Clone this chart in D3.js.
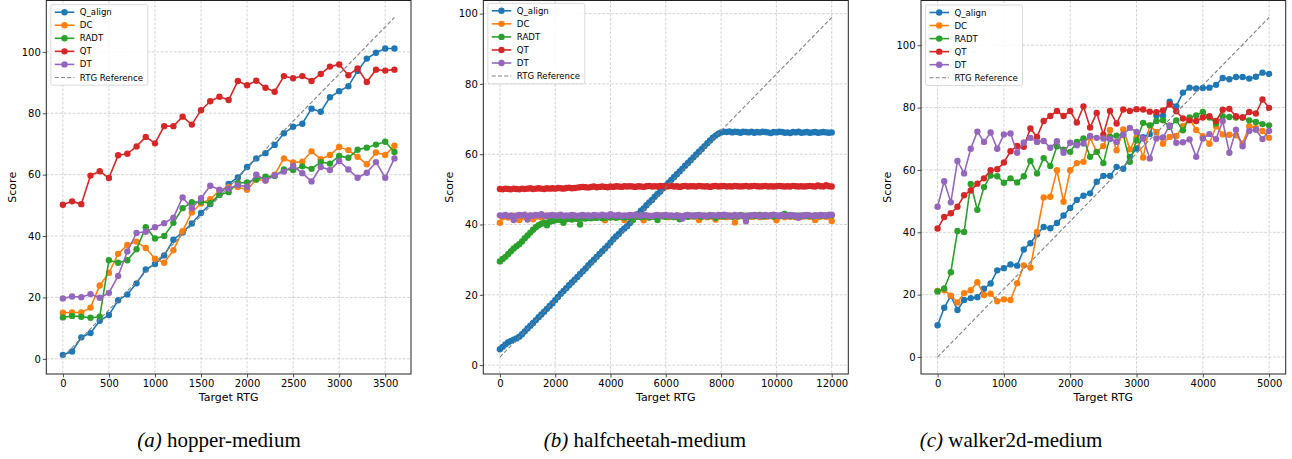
<!DOCTYPE html>
<html>
<head>
<meta charset="utf-8">
<script src="https://cdn.jsdelivr.net/npm/d3@7"></script>
<style>
  body { margin: 0; background: #fff; }
  svg text { font-family: "DejaVu Sans", sans-serif; fill: #000; }
</style>
</head>
<body>
<svg id="chart" width="1292" height="459"></svg>
<script>
// series names and colours (legend order)
var seriesNames = ["Q_align", "DC", "RADT", "QT", "DT"];
var seriesColors = ["#1f77b4", "#ff7f0e", "#2ca02c", "#d62728", "#9467bd"];

// (a) hopper-medium, target RTG 0..3600 step 100
var hopperRtg = d3.range(0, 3601, 100);
var hopperQAlign = [1.3, 2.4, 7.0, 8.4, 12.4, 14.3, 19.1, 21.0, 24.6, 29.1, 30.9, 33.7, 38.8, 41.2, 44.1, 47.5, 50.4, 53.5, 57.0, 59.1, 62.5, 65.3, 67.0, 69.7, 73.5, 75.6, 76.6, 81.5, 80.5, 85.2, 87.2, 88.8, 93.8, 97.8, 99.7, 101.1, 101.1];
var hopperDC = [15.0, 15.1, 15.1, 16.7, 23.9, 28.0, 34.2, 37.1, 38.2, 36.1, 32.6, 31.3, 35.4, 41.6, 47.7, 50.6, 52.0, 54.8, 55.9, 56.0, 55.1, 58.4, 58.1, 60.0, 65.3, 64.0, 64.2, 67.6, 65.0, 66.4, 69.0, 68.0, 65.8, 63.4, 67.2, 66.4, 69.4];
var hopperRADT = [13.5, 14.0, 13.7, 13.4, 13.7, 32.1, 31.3, 32.1, 35.7, 42.9, 39.2, 40.0, 44.3, 49.1, 51.0, 51.2, 50.7, 53.4, 54.3, 57.3, 57.5, 58.4, 59.3, 59.6, 61.7, 61.5, 62.7, 61.9, 64.1, 63.6, 66.1, 65.5, 68.1, 68.8, 69.8, 70.7, 67.4];
var hopperQT = [50.2, 51.3, 50.4, 59.7, 61.1, 58.9, 66.3, 66.8, 69.2, 72.3, 70.2, 75.8, 75.8, 78.9, 76.3, 81.0, 83.9, 85.4, 84.3, 90.5, 89.1, 90.6, 88.3, 87.0, 92.1, 91.4, 92.1, 90.5, 92.8, 95.2, 95.9, 92.4, 94.6, 90.2, 94.2, 93.9, 94.2];
var hopperDT = [19.7, 20.3, 20.1, 21.1, 19.9, 21.5, 27.0, 35.0, 41.0, 41.4, 42.9, 44.2, 46.0, 52.6, 49.1, 52.3, 56.4, 55.1, 55.4, 56.6, 56.1, 60.0, 58.1, 59.8, 61.0, 62.8, 60.5, 57.8, 62.5, 61.5, 64.4, 61.7, 59.0, 60.6, 64.1, 59.0, 65.3];
var hopperRefX = [0, 3600];
var hopperRefY = [0.6, 111.2];
var hopperXTicks = [0, 500, 1000, 1500, 2000, 2500, 3000, 3500];

// (b) halfcheetah-medium, target RTG 0..12000 step 100
var cheetahRtg = d3.range(0, 12001, 100);
var cheetahQAlign = [
  4.5, 5.2, 5.9, 6.5, 6.9, 7.2, 7.6, 8.1, 8.8, 9.6,
  10.4, 11.2, 12.0, 12.8, 13.6, 14.4, 15.2, 16.0, 16.8, 17.6,
  18.5, 19.4, 20.3, 21.1, 21.9, 22.7, 23.5, 24.3, 25.1, 25.9,
  26.7, 27.5, 28.4, 29.2, 30.0, 30.8, 31.6, 32.4, 33.2, 34.0,
  34.9, 35.8, 36.6, 37.3, 38.2, 38.9, 39.5, 40.4, 41.3, 42.2,
  43.0, 43.9, 44.6, 45.5, 46.3, 47.0, 47.9, 48.7, 49.4, 50.3,
  51.1, 51.9, 52.7, 53.5, 54.3, 55.1, 55.9, 56.7, 57.5, 58.3,
  59.1, 59.9, 60.7, 61.5, 62.3, 63.1, 63.9, 64.7, 65.3, 65.8,
  66.2, 66.4, 66.3, 66.5, 66.2, 66.4, 66.3, 66.1, 66.4, 66.3,
  66.2, 66.4, 66.1, 66.3, 66.2, 66.4, 66.3, 66.2, 66.0, 66.3,
  66.2, 66.4, 66.3, 66.1, 66.2, 66.0, 66.3, 66.2, 66.4, 66.1,
  66.2, 66.3, 66.1, 66.2, 66.3, 66.1, 66.2, 66.3, 66.2, 66.1,
  66.2];
var cheetahDC = [
  40.5, 42.1, 42.4, 42.0, 42.3, 42.5, 42.2, 41.3, 42.4, 42.1,
  42.3, 42.5, 41.5, 42.2, 42.4, 42.1, 42.3, 42.6, 41.2, 42.3,
  42.4, 42.2, 42.5, 42.1, 42.3, 42.4, 42.2, 42.5, 42.3, 42.1,
  42.4, 42.2, 42.6, 42.3, 42.1, 42.4, 42.2, 42.3, 41.2, 42.4,
  42.3, 42.1, 42.5, 42.2, 42.4, 41.3, 42.3, 42.5, 42.1, 42.4,
  42.2, 42.3, 41.2, 42.4, 42.1, 42.3, 42.5, 42.2, 42.4, 42.6,
  42.3, 42.1, 42.4, 42.2, 42.5, 42.3, 42.1, 42.4, 42.2, 42.3,
  42.4, 42.2, 41.3, 42.3, 42.5, 42.1, 42.4, 42.2, 41.4, 42.3,
  42.2, 42.4, 42.1, 42.3, 42.5, 40.6, 42.2, 42.4, 42.3, 42.1,
  42.4, 42.2, 42.3, 42.5, 42.1, 42.4, 42.2, 42.3, 42.4, 42.2,
  41.2, 42.3, 42.5, 42.1, 42.4, 42.2, 42.3, 42.1, 42.4, 42.2,
  42.3, 42.5, 42.2, 42.4, 41.3, 42.1, 42.3, 42.4, 42.2, 42.3,
  41.0];
var cheetahRADT = [
  29.5, 30.2, 30.8, 31.6, 32.4, 33.2, 33.8, 34.4, 35.2, 36.1,
  36.9, 37.7, 38.5, 39.2, 39.8, 40.2, 40.5, 39.8, 40.8, 41.0,
  41.2, 41.4, 41.3, 40.5, 41.5, 41.6, 41.4, 41.7, 41.6, 40.0,
  41.8, 41.7, 41.9, 41.8, 42.0, 41.9, 42.1, 41.8, 42.0, 42.1,
  42.0, 42.2, 41.9, 42.1, 42.2, 42.0, 42.3, 42.1, 41.2, 42.2,
  42.3, 42.1, 42.2, 42.4, 42.0, 42.3, 42.2, 41.3, 42.4, 42.3,
  42.2, 42.4, 42.3, 42.1, 42.5, 41.5, 42.3, 42.4, 42.2, 42.5,
  42.3, 42.6, 42.4, 42.2, 42.5, 42.3, 42.4, 42.6, 41.9, 42.4,
  42.5, 42.3, 42.6, 42.4, 42.2, 42.5, 42.3, 42.7, 42.4, 42.5,
  42.3, 42.6, 42.4, 42.5, 42.7, 42.3, 42.5, 42.4, 42.6, 42.3,
  42.5, 42.4, 42.7, 43.0, 42.5, 42.4, 42.6, 42.3, 42.5, 42.4,
  42.6, 42.4, 42.5, 42.3, 42.6, 42.5, 42.4, 42.6, 42.5, 42.7,
  42.6];
var cheetahQT = [
  50.1, 50.0, 50.2, 50.1, 50.0, 50.2, 50.1, 50.0, 50.2, 50.1,
  50.2, 50.3, 50.1, 50.2, 50.3, 50.2, 50.1, 50.3, 50.2, 50.3,
  50.2, 50.4, 50.3, 50.2, 50.4, 50.5, 50.3, 50.4, 50.5, 50.6,
  50.7, 50.6, 50.5, 50.7, 50.8, 50.6, 50.7, 50.8, 50.7, 50.6,
  50.8, 50.7, 50.9, 50.8, 50.7, 50.9, 50.8, 50.9, 50.8, 50.7,
  50.9, 50.8, 50.7, 50.9, 51.0, 50.8, 50.9, 50.8, 51.0, 50.9,
  50.8, 50.9, 51.0, 50.8, 50.9, 50.7, 50.9, 51.0, 50.8, 50.9,
  50.9, 50.8, 51.0, 50.9, 50.8, 50.9, 50.7, 50.9, 51.0, 50.8,
  50.9, 51.0, 50.8, 50.9, 50.8, 51.0, 50.9, 50.8, 50.9, 51.0,
  50.8, 50.9, 51.0, 50.9, 50.8, 50.9, 51.0, 50.8, 50.9, 50.8,
  50.9, 51.0, 50.9, 50.8, 50.9, 50.8, 51.0, 50.9, 50.8, 50.9,
  50.8, 50.9, 51.0, 50.9, 50.8, 51.1, 50.9, 50.8, 51.2, 50.9,
  50.8];
var cheetahDT = [
  42.6, 42.5, 42.7, 42.4, 42.6, 41.3, 42.5, 42.7, 42.6, 42.8,
  41.4, 42.6, 42.5, 42.7, 42.6, 42.9, 42.5, 42.4, 42.6, 42.7,
  42.5, 42.6, 42.8, 42.4, 42.6, 42.5, 42.7, 42.6, 42.4, 42.6,
  42.7, 42.5, 42.6, 42.4, 42.7, 42.6, 42.5, 42.8, 42.6, 42.5,
  42.9, 42.6, 42.5, 42.7, 42.4, 42.6, 42.5, 42.7, 42.6, 42.8,
  42.6, 42.5, 42.7, 42.6, 42.5, 42.4, 42.6, 42.7, 42.5, 42.6,
  42.7, 42.5, 42.6, 42.4, 42.6, 42.5, 41.7, 42.6, 42.7, 42.5,
  42.6, 42.5, 42.7, 42.6, 42.4, 42.5, 42.7, 42.6, 42.5, 42.7,
  42.6, 42.8, 42.5, 42.6, 42.4, 42.7, 42.5, 42.6, 42.5, 40.9,
  42.6, 42.5, 42.7, 42.6, 42.4, 42.6, 42.7, 42.5, 42.6, 42.8,
  42.6, 42.5, 42.7, 42.4, 42.6, 42.7, 42.5, 42.6, 41.9, 42.6,
  42.5, 42.7, 42.6, 42.4, 42.6, 42.5, 42.7, 42.6, 42.5, 42.7,
  42.8];
var cheetahRefX = [0, 12000];
var cheetahRefY = [2.3, 98.9];
var cheetahXTicks = [0, 2000, 4000, 6000, 8000, 10000, 12000];

// (c) walker2d-medium, target RTG 0..5000 step 100
var walkerRtg = d3.range(0, 5001, 100);
var walkerQAlign = [
  10.2, 15.8, 19.6, 15.1, 18.3, 18.9, 19.2, 21.9, 23.6, 27.8,
  28.5, 29.7, 29.3, 34.5, 36.5, 39.4, 41.7, 41.3, 43.0, 45.4,
  47.8, 50.4, 51.7, 52.5, 56.2, 58.1, 58.1, 61.0, 60.4, 64.2,
  66.9, 70.5, 71.5, 77.5, 77.4, 81.9, 80.4, 84.8, 86.4, 86.1,
  86.3, 86.4, 87.3, 89.5, 89.1, 89.8, 89.8, 89.3, 89.9, 91.2,
  90.8];
var walkerDC = [
  21.2, 21.4, 19.7, 17.5, 20.5, 21.4, 24.0, 19.9, 20.3, 17.9,
  18.5, 18.3, 23.7, 29.4, 28.7, 40.1, 51.2, 51.4, 59.9, 49.8,
  59.9, 62.2, 62.6, 70.4, 65.8, 67.7, 72.8, 66.3, 73.0, 66.6,
  70.4, 64.0, 74.3, 72.2, 68.4, 70.6, 70.9, 74.0, 76.5, 72.8,
  70.8, 68.4, 74.0, 71.4, 71.3, 71.1, 68.5, 74.0, 73.5, 72.5,
  70.3];
var walkerRADT = [
  21.0, 22.0, 27.2, 40.4, 40.1, 55.5, 47.2, 54.5, 58.2, 58.0,
  55.9, 57.3, 56.0, 58.0, 62.9, 58.9, 63.8, 61.3, 67.6, 66.5,
  65.8, 69.0, 70.1, 64.2, 65.8, 62.2, 70.6, 71.0, 71.3, 62.6,
  69.5, 75.1, 74.3, 75.7, 75.9, 73.8, 75.9, 72.7, 76.8, 77.5,
  78.6, 76.8, 74.9, 77.2, 77.0, 76.8, 76.8, 75.9, 75.4, 74.7,
  74.3];
var walkerQT = [
  41.2, 44.9, 46.1, 48.2, 51.9, 53.4, 55.6, 57.3, 59.9, 60.2,
  62.4, 66.0, 67.7, 67.4, 73.3, 70.6, 75.7, 77.3, 78.9, 77.3,
  78.9, 75.2, 80.4, 73.6, 78.3, 71.3, 78.9, 74.9, 79.4, 78.9,
  79.5, 79.4, 78.7, 78.5, 79.1, 81.0, 78.8, 76.5, 75.9, 75.7,
  76.8, 77.2, 75.7, 79.3, 79.6, 77.2, 76.8, 78.6, 78.1, 82.6,
  79.9];
var walkerDT = [
  48.2, 56.4, 49.6, 62.9, 58.9, 66.8, 72.3, 69.0, 72.0, 66.8,
  71.4, 71.7, 65.5, 68.8, 70.3, 69.0, 69.3, 67.1, 69.2, 65.5,
  68.7, 67.9, 68.5, 70.9, 70.3, 70.1, 69.9, 69.0, 71.3, 73.5,
  72.2, 70.1, 63.7, 70.1, 70.4, 74.3, 68.7, 68.9, 69.8, 64.2,
  70.1, 71.5, 69.9, 75.7, 65.5, 72.9, 67.6, 72.5, 72.9, 69.9,
  72.5];
var walkerRefX = [0, 5000];
var walkerRefY = [0.0, 108.9];
var walkerXTicks = [0, 1000, 2000, 3000, 4000, 5000];

var yTicks = [0, 20, 40, 60, 80, 100];

var svg = d3.select("#chart");

// draws one subplot
function drawPanel(opts) {
  var top = 0.5, bottom = 374;
  var left = opts.left, right = opts.right;
  var g = svg.append("g");

  // matplotlib style 5% margins on the data extents
  var xExt = d3.extent(opts.rtg.concat(opts.refX));
  var allY = opts.refY.slice();
  opts.series.forEach(function(s) { allY = allY.concat(s); });
  var yExt = d3.extent(allY);
  var xPad = (xExt[1] - xExt[0]) * 0.05;
  var yPad = (yExt[1] - yExt[0]) * 0.05;

  var x = d3.scaleLinear().domain([xExt[0] - xPad, xExt[1] + xPad]).range([left, right]);
  var y = d3.scaleLinear().domain([yExt[0] - yPad, yExt[1] + yPad]).range([bottom, top]);

  // grid
  g.selectAll(".gx").data(opts.xTicks).enter().append("line")
    .attr("x1", function(d) { return x(d); }).attr("x2", function(d) { return x(d); })
    .attr("y1", top).attr("y2", bottom)
    .attr("stroke", "#c8c8c8").attr("stroke-width", 0.8).attr("stroke-dasharray", "2.8,1.6");
  g.selectAll(".gy").data(yTicks).enter().append("line")
    .attr("x1", left).attr("x2", right)
    .attr("y1", function(d) { return y(d); }).attr("y2", function(d) { return y(d); })
    .attr("stroke", "#c8c8c8").attr("stroke-width", 0.8).attr("stroke-dasharray", "2.8,1.6");

  // series lines + markers
  var line = d3.line()
    .x(function(d, i) { return x(opts.rtg[i]); })
    .y(function(d) { return y(d); });
  opts.series.forEach(function(s, k) {
    g.append("path")
      .attr("d", line(s))
      .attr("fill", "none")
      .attr("stroke", seriesColors[k])
      .attr("stroke-width", 1.6);
    g.selectAll(".m" + k).data(s).enter().append("circle")
      .attr("cx", function(d, i) { return x(opts.rtg[i]); })
      .attr("cy", function(d) { return y(d); })
      .attr("r", 3.2)
      .attr("fill", seriesColors[k]);
  });

  // RTG reference line
  g.append("line")
    .attr("x1", x(opts.refX[0])).attr("y1", y(opts.refY[0]))
    .attr("x2", x(opts.refX[1])).attr("y2", y(opts.refY[1]))
    .attr("stroke", "#808080").attr("stroke-width", 1.1)
    .attr("stroke-dasharray", "4,2.2");

  // axes
  var xAxis = d3.axisBottom(x).tickValues(opts.xTicks).tickSize(3.5).tickPadding(2.2)
    .tickFormat(d3.format("d"));
  var yAxis = d3.axisLeft(y).tickValues(yTicks).tickSize(3.5).tickPadding(2)
    .tickFormat(d3.format("d"));
  var gx = g.append("g").attr("transform", "translate(0," + bottom + ")").call(xAxis);
  var gy = g.append("g").attr("transform", "translate(" + left + ",0)").call(yAxis);
  [gx, gy].forEach(function(a) {
    a.select(".domain").remove();
    a.selectAll("line").attr("stroke", "#222").attr("stroke-width", 0.8);
    a.selectAll("text").attr("font-size", "10px").attr("fill", "#111")
      .attr("font-family", "DejaVu Sans, sans-serif");
  });

  // frame
  g.append("rect")
    .attr("x", left).attr("y", top)
    .attr("width", right - left).attr("height", bottom - top)
    .attr("fill", "none").attr("stroke", "#222").attr("stroke-width", 1);

  // axis labels
  g.append("text")
    .attr("x", (left + right) / 2).attr("y", 401)
    .attr("text-anchor", "middle").attr("font-size", "11px")
    .text("Target RTG");
  g.append("text")
    .attr("transform", "translate(" + (left - 30) + "," + ((top + bottom) / 2) + ") rotate(-90)")
    .attr("text-anchor", "middle").attr("font-size", "11px")
    .text("Score");

  // legend
  var lx = left + 4.5, ly = opts.legendTop;
  var lg = g.append("g").attr("transform", "translate(" + lx + "," + ly + ")");
  lg.append("rect")
    .attr("width", 97).attr("height", 80.5).attr("rx", 2)
    .attr("fill", "#fff").attr("fill-opacity", 0.85)
    .attr("stroke", "#d0d0d0").attr("stroke-width", 0.8);
  var entries = seriesNames.concat(["RTG Reference"]);
  entries.forEach(function(name, k) {
    var ry = 7.5 + k * 13.05;
    var isRef = k === seriesNames.length;
    lg.append("line")
      .attr("x1", 4).attr("x2", 23.5).attr("y1", ry).attr("y2", ry)
      .attr("stroke", isRef ? "#808080" : seriesColors[k])
      .attr("stroke-width", isRef ? 1.1 : 1.6)
      .attr("stroke-dasharray", isRef ? "4,2.2" : null);
    if (!isRef) {
      lg.append("circle").attr("cx", 13.7).attr("cy", ry).attr("r", 3.2)
        .attr("fill", seriesColors[k]);
    }
    lg.append("text")
      .attr("x", 29).attr("y", ry + 3.1)
      .attr("font-size", "8.6px")
      .text(name);
  });

  // caption
  var cap = svg.append("text")
    .attr("x", opts.captionX).attr("y", 447)
    .attr("text-anchor", "middle")
    .style("font-family", "'Liberation Serif', 'Times New Roman', serif")
    .style("font-size", "21px");
  cap.append("tspan").style("font-style", "italic").text(opts.captionTag);
  cap.append("tspan").text(" " + opts.caption);
}

drawPanel({
  left: 46.3, right: 411, legendTop: 4.7,
  rtg: hopperRtg,
  series: [hopperQAlign, hopperDC, hopperRADT, hopperQT, hopperDT],
  refX: hopperRefX, refY: hopperRefY, xTicks: hopperXTicks,
  captionX: 219, captionTag: "(a)", caption: "hopper-medium"
});
drawPanel({
  left: 483.3, right: 848.3, legendTop: 3.3,
  rtg: cheetahRtg,
  series: [cheetahQAlign, cheetahDC, cheetahRADT, cheetahQT, cheetahDT],
  refX: cheetahRefX, refY: cheetahRefY, xTicks: cheetahXTicks,
  captionX: 645, captionTag: "(b)", caption: "halfcheetah-medium"
});
drawPanel({
  left: 921, right: 1285.7, legendTop: 5,
  rtg: walkerRtg,
  series: [walkerQAlign, walkerDC, walkerRADT, walkerQT, walkerDT],
  refX: walkerRefX, refY: walkerRefY, xTicks: walkerXTicks,
  captionX: 1011, captionTag: "(c)", caption: "walker2d-medium"
});
</script>
</body>
</html>
